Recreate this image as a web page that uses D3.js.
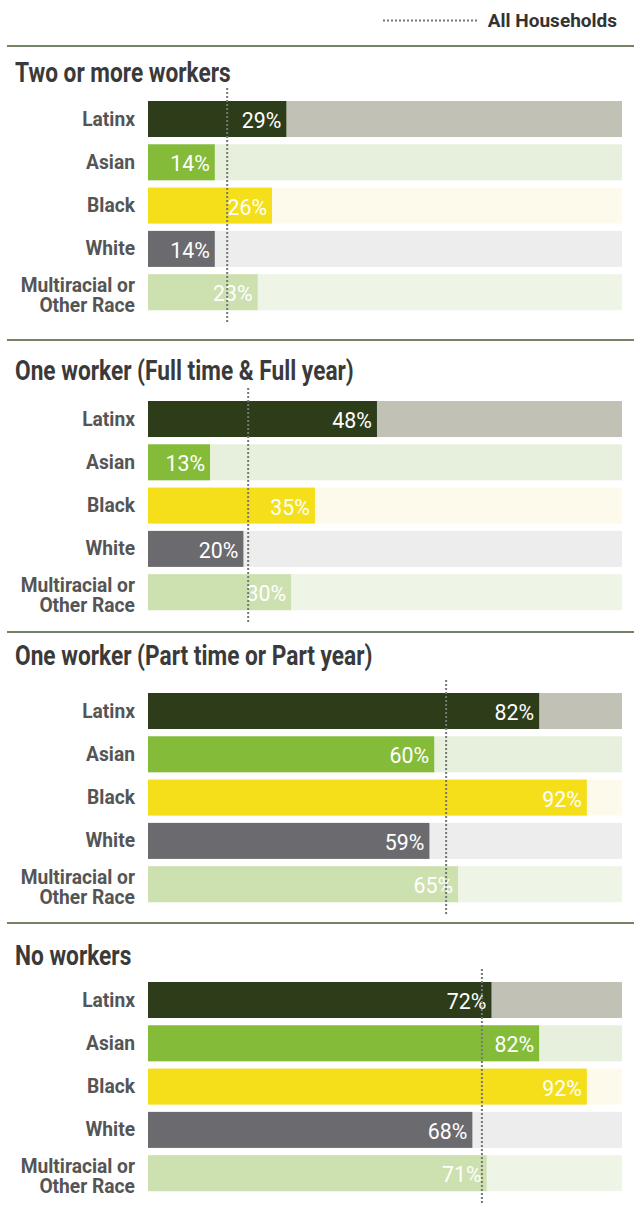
<!DOCTYPE html>
<html><head><meta charset="utf-8">
<script src="https://cdn.jsdelivr.net/npm/d3@7"></script>
<style>
html,body{margin:0;padding:0;background:#fff;}
svg{display:block;}
</style></head>
<body>
<svg id="chart" width="634" height="1216"></svg>
<script>
// ---- data ----
const panels = ["Two or more workers", "One worker (Full time & Full year)", "One worker (Part time or Part year)", "No workers"];
const groups = ["Latinx", "Asian", "Black", "White", "Multiracial or Other Race"];
const twoOrMore = [29, 14, 26, 14, 23];
const oneFullTime = [48, 13, 35, 20, 30];
const onePartTime = [82, 60, 92, 59, 65];
const noWorkers = [72, 82, 92, 68, 71];
const allHouseholds = [16.6, 21.0, 62.5, 70.0];
const legendLabel = "All Households";

const seriesByPanel = [twoOrMore, oneFullTime, onePartTime, noWorkers];

// ---- styles ----
const barColors = ["#2d3d1a", "#84bc3a", "#f4df1a", "#6b6b6f", "#cde0b0"];
const trackColors = ["#c2c1b5", "#e7f0dc", "#fdfaec", "#ededed", "#eef4e6"];
const font = "Roboto, 'Liberation Sans', sans-serif";

// ---- layout ----
const sepY = [46, 340, 632, 923];
const titleY = [82, 380, 665, 965];
const barTop = [101, 401, 693, 982];
const barH = 36, barStep = 43.3, trackEnd = 622, labelX = 135;

const svg = d3.select("#chart");
const x = d3.scaleLinear().domain([0, 100]).range([148, 625]);

function condense(sel, f) {
  sel.each(function() {
    const w = this.getComputedTextLength();
    d3.select(this).attr("textLength", w * f).attr("lengthAdjust", "spacingAndGlyphs");
  });
  return sel;
}

// legend
svg.append("line").attr("x1", 383).attr("x2", 479).attr("y1", 20.5).attr("y2", 20.5)
  .attr("stroke", "#777").attr("stroke-width", 2).attr("stroke-dasharray", "2,2");
condense(svg.append("text").attr("x", 617).attr("y", 27).attr("text-anchor", "end")
  .attr("font-family", font).attr("font-size", 19).attr("font-weight", 700)
  .attr("fill", "#333").text(legendLabel), 1.0);

panels.forEach((title, p) => {
  const g = svg.append("g");
  g.append("line").attr("x1", 7).attr("x2", 634).attr("y1", sepY[p]).attr("y2", sepY[p])
    .attr("stroke", "#465a33").attr("stroke-width", 1.6);
  condense(g.append("text").attr("x", 15).attr("y", titleY[p])
    .attr("font-family", font).attr("font-size", 27).attr("font-weight", 700)
    .attr("fill", "#3a3a3a").text(title), 0.84);

  const yPos = d => barTop[p] + groups.indexOf(d) * barStep;
  const vals = seriesByPanel[p];
  const rows = g.selectAll("g.row").data(groups.map((grp, i) => ({grp, i, v: vals[i]})))
    .enter().append("g").attr("class", "row");

  rows.append("rect").attr("x", x(0)).attr("y", d => yPos(d.grp))
    .attr("width", trackEnd - x(0)).attr("height", barH)
    .attr("fill", d => trackColors[d.i]);
  rows.append("rect").attr("x", x(0)).attr("y", d => yPos(d.grp))
    .attr("width", d => x(d.v) - x(0)).attr("height", barH)
    .attr("fill", d => barColors[d.i]);
  condense(rows.append("text").attr("x", d => x(d.v) - 5).attr("y", d => yPos(d.grp) + 27)
    .attr("text-anchor", "end").attr("font-family", font).attr("font-size", 22).attr("font-weight", 400)
    .attr("fill", "#fff").text(d => d.v + "%"), 0.97);

  rows.each(function(d) {
    const r = d3.select(this);
    const mk = (txt, yy) => condense(r.append("text").attr("text-anchor", "end")
      .attr("font-family", font).attr("font-size", 20).attr("font-weight", 700)
      .attr("fill", "#555").attr("x", labelX).attr("y", yy).text(txt), 0.96);
    if (d.grp === "Multiracial or Other Race") {
      mk("Multiracial or", yPos(d.grp) + 18);
      mk("Other Race", yPos(d.grp) + 38);
    } else {
      mk(d.grp, yPos(d.grp) + 24.5);
    }
  });

  const ax = x(allHouseholds[p]);
  g.append("line").attr("x1", ax).attr("x2", ax)
    .attr("y1", barTop[p] - 13).attr("y2", barTop[p] + 222)
    .attr("stroke", "#777").attr("stroke-width", 2).attr("stroke-dasharray", "2,2");
});
</script>
</body></html>
